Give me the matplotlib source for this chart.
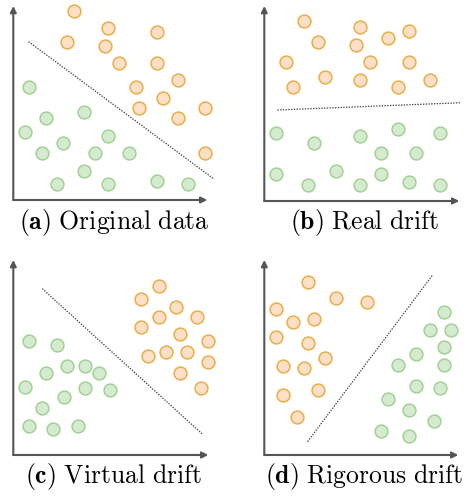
import numpy as np
import matplotlib.pyplot as plt

plt.rcParams['mathtext.fontset'] = 'cm'

W, H = 471, 500

# (a) Original data  -- coordinates in local units (origin = axes corner)
a_orange = [(60.7, 189.3), (94.3, 171.7), (143.3, 168), (53.3, 157.7), (91.7, 154.3),
            (105.3, 137.3), (143.3, 137.3), (164.3, 120), (122.7, 112.7), (150, 102.3),
            (126, 91.7), (192, 91.7), (164.3, 81.7), (192, 46.7)]
a_green = [(15.3, 112.7), (70.7, 88.3), (32.7, 81.7), (11.7, 67.7), (94.7, 64),
           (50, 57.3), (29, 46.7), (81.3, 46.7), (116, 46.7), (70.7, 29.3),
           (43.3, 16), (94.7, 16), (143.3, 19), (175, 16)]
a_line = [(15.3, 158.3), (201, 20.7)]

# (b) Real drift
b_orange = [(39.7, 180.3), (95.3, 173.7), (144.7, 170), (123.7, 163.3), (53.3, 159.3),
            (92, 156), (22, 138.7), (106, 138.7), (144.7, 138.7), (60.7, 124.3),
            (95.3, 121), (166, 121), (29, 113.7), (134, 113.7)]
b_green = [(11.3, 68.3), (134, 71.7), (176, 68.3), (50, 57.7), (95.3, 65),
           (116.7, 47.7), (151.7, 47.7), (11.3, 27), (71.3, 29.7), (116.7, 27),
           (144.7, 19.3), (43.3, 16), (95.3, 16), (176, 16)]
b_line = [(13, 91), (196.7, 98.3)]

# (c) Virtual drift
c_orange = [(145.3, 169.3), (127.7, 155.7), (162.7, 148.3), (145.3, 138.3), (183.7, 138.3),
            (127.7, 127.7), (166.3, 120.7), (194.3, 114), (134.7, 99.3), (152.3, 103.3),
            (173.3, 103.3), (194.3, 92.7), (166.3, 82.3), (187.3, 67.3)]
c_green = [(15.7, 113.7), (43.3, 110), (54, 89), (71.7, 89), (32.7, 82.3),
           (85.7, 82.3), (11.7, 68.3), (71.7, 67.3), (96.3, 65), (50.7, 58),
           (29, 47.3), (15.7, 29.3), (40, 25.7), (64.7, 29.3)]
c_line = [(29, 166.3), (189.3, 20.7)]

# (d) Rigorous drift
d_orange = [(43.3, 172.7), (71.3, 156.7), (102.7, 153.3), (11.3, 146), (29, 132.7),
            (50, 136), (11.3, 118.3), (43.3, 111.7), (60.7, 97.3), (18.7, 89),
            (39.7, 87.3), (53.3, 65), (18.7, 60), (32.7, 38.3)]
d_green = [(179.7, 143.3), (166, 125), (187, 125), (179.7, 107.7), (151.7, 101),
           (134, 90), (179.7, 90), (151.7, 69), (176, 66.7), (123.7, 55.7),
           (144.7, 45), (169.3, 34.3), (116.7, 24), (144.7, 19)]
d_line = [(43.3, 13.3), (168.3, 180)]

letters = ['a', 'b', 'c', 'd']
titles = ['Original data', 'Real drift', 'Virtual drift', 'Rigorous drift']

panels = [
    (a_orange, a_green, a_line, (13.3, 200), (194, 194), 114, 222),
    (b_orange, b_green, b_line, (264.3, 201), (195, 195), 365, 222),
    (c_orange, c_green, c_line, (13.3, 455), (195, 195), 113, 476),
    (d_orange, d_green, d_line, (264.3, 455), (194, 195), 364, 476),
]

fig = plt.figure(figsize=(W / 100, H / 100), dpi=100)

for i, (orange, green, line, org, ln, tx, ty) in enumerate(panels):
    ax = fig.add_axes([org[0] / W, (H - org[1]) / H, 210 / W, 210 / H])
    ax.set_xlim(0, 210)
    ax.set_ylim(0, 210)
    ax.axis('off')

    # axes arrows
    ax.annotate('', xy=(ln[0], 0), xytext=(0, 0), annotation_clip=False,
                arrowprops=dict(arrowstyle='-|>', color='#555555', lw=1.5,
                                mutation_scale=9, shrinkA=0, shrinkB=0))
    ax.annotate('', xy=(0, ln[1]), xytext=(0, 0), annotation_clip=False,
                arrowprops=dict(arrowstyle='-|>', color='#555555', lw=1.5,
                                mutation_scale=9, shrinkA=0, shrinkB=0))

    lx, ly = zip(*line)
    ax.plot(lx, ly, color='#444444', lw=0.9, linestyle=(0, (1.1, 1.1)), clip_on=False)

    ox, oy = zip(*orange)
    gx, gy = zip(*green)
    ax.scatter(ox, oy, s=85, facecolor='#FFE0C6', edgecolor='#E8AE4A', linewidth=1.1,
               clip_on=False, zorder=3)
    ax.scatter(gx, gy, s=85, facecolor='#D5EBD0', edgecolor='#A3D196', linewidth=1.1,
               clip_on=False, zorder=3)

    fig.text(tx / W, 1 - ty / H,
             r'$\mathbf{(%s)}\ \mathrm{%s}$' % (letters[i], titles[i].replace(' ', r'\ ')),
             ha='center', va='center', fontsize=18.5)

fig.savefig('out.png', dpi=100)
